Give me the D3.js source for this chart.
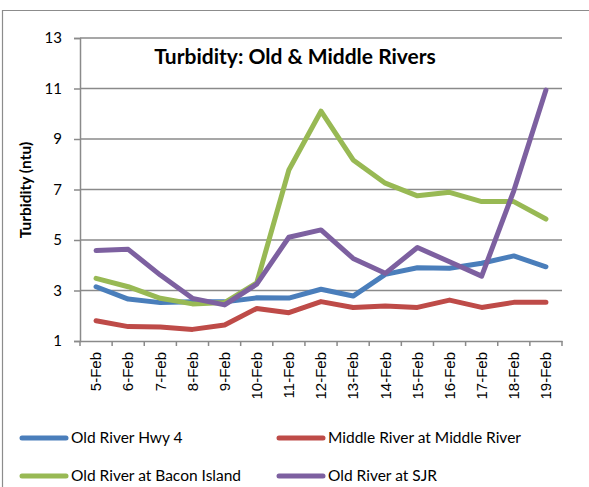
<!DOCTYPE html>
<html>
<head>
<meta charset="utf-8">
<script src="https://cdn.jsdelivr.net/npm/d3@7"></script>
<style>
  body { margin: 0; background: #fff; }
  svg { display: block; }
</style>
</head>
<body>
<div id="chart"></div>
<script>
// dates on the x axis
var days = ["5-Feb","6-Feb","7-Feb","8-Feb","9-Feb","10-Feb","11-Feb","12-Feb",
            "13-Feb","14-Feb","15-Feb","16-Feb","17-Feb","18-Feb","19-Feb"];

// turbidity readings (ntu)
var oldRiverHwy4   = [3.15, 2.66, 2.52, 2.55, 2.55, 2.71, 2.70, 3.05, 2.78, 3.64, 3.90, 3.88, 4.08, 4.37, 3.94];
var middleRiver    = [1.80, 1.57, 1.55, 1.46, 1.63, 2.29, 2.12, 2.56, 2.33, 2.39, 2.33, 2.62, 2.33, 2.53, 2.53];
var baconIsland    = [3.48, 3.15, 2.69, 2.47, 2.52, 3.30, 7.77, 10.10, 8.17, 7.25, 6.75, 6.89, 6.52, 6.52, 5.83];
var oldRiverSJR    = [4.58, 4.63, 3.61, 2.69, 2.43, 3.25, 5.11, 5.40, 4.27, 3.68, 4.70, 4.14, 3.57, 6.95, 10.94];

var seriesNames = ["Old River Hwy 4", "Middle River at Middle River", "Old River at Bacon Island", "Old River at SJR"];
var yTicks = [1, 3, 5, 7, 9, 11, 13];

var series = [
  {name: seriesNames[0], values: oldRiverHwy4, color: "#4A7EBB"},
  {name: seriesNames[1], values: middleRiver,  color: "#BE4B48"},
  {name: seriesNames[2], values: baconIsland,  color: "#98B954"},
  {name: seriesNames[3], values: oldRiverSJR,  color: "#7D60A0"}
];

var W = 589, H = 487;
var margin = {top: 38, right: 27, bottom: 146, left: 80},
    width = W - margin.left - margin.right,
    height = H - margin.top - margin.bottom;

var svg = d3.select("#chart").append("svg")
  .attr("width", W)
  .attr("height", H);

// outer chart border (only top and left show in the frame)
svg.append("path")
  .attr("d", "M2.5," + H + "V10.5H" + W)
  .attr("fill", "none")
  .attr("stroke", "#8c8c8c")
  .attr("stroke-width", 1.2);

var g = svg.append("g")
  .attr("transform", "translate(" + margin.left + "," + margin.top + ")");

var x = d3.scaleBand().domain(days).range([0, width]);
var y = d3.scaleLinear().domain([1, 13]).range([height, 0]);

// gridlines
g.selectAll(".grid")
  .data(yTicks.filter(function(d) { return d > 1; }))
  .enter().append("line")
    .attr("x1", 0).attr("x2", width)
    .attr("y1", function(d) { return y(d); })
    .attr("y2", function(d) { return y(d); })
    .attr("stroke", "#8a8a8a")
    .attr("stroke-width", 1.5);

// y axis
var yAxis = g.append("g")
  .call(d3.axisLeft(y).tickValues(yTicks).tickSize(6).tickPadding(12));
yAxis.select(".domain").attr("stroke", "#8a8a8a").attr("stroke-width", 1.5);
yAxis.selectAll(".tick line").attr("stroke", "#8a8a8a").attr("stroke-width", 1.5);
yAxis.selectAll("text")
  .style("font-family", "Lato, 'Open Sans', sans-serif")
  .style("font-size", "15px")
  .attr("fill", "#000");

// x axis, ticks sit between categories like Excel
var xAxis = g.append("g")
  .attr("transform", "translate(0," + height + ")")
  .call(d3.axisBottom(x).tickSize(0).tickPadding(0));
xAxis.select(".domain").attr("stroke", "#8a8a8a").attr("stroke-width", 1.5);
xAxis.selectAll(".tick text")
  .attr("transform", "rotate(-90)")
  .attr("x", -11)
  .attr("y", 0)
  .attr("dy", "0.35em")
  .style("text-anchor", "end")
  .style("font-family", "'Liberation Sans', Arial, sans-serif")
  .style("font-size", "15px")
  .attr("fill", "#000");

var bounds = d3.range(days.length + 1).map(function(i) { return i * x.bandwidth(); });
g.selectAll(".xtick")
  .data(bounds)
  .enter().append("line")
    .attr("x1", function(d) { return d; }).attr("x2", function(d) { return d; })
    .attr("y1", height).attr("y2", height + 5)
    .attr("stroke", "#8a8a8a")
    .attr("stroke-width", 1.5);

// lines
var line = d3.line()
  .x(function(d, i) { return x(days[i]) + x.bandwidth() / 2; })
  .y(function(d) { return y(d); });

g.selectAll(".series")
  .data(series)
  .enter().append("path")
    .attr("d", function(d) { return line(d.values); })
    .attr("fill", "none")
    .attr("stroke", function(d) { return d.color; })
    .attr("stroke-width", 5)
    .attr("stroke-linejoin", "round")
    .attr("stroke-linecap", "round");

// title
svg.append("text")
  .attr("x", 295)
  .attr("y", 64)
  .attr("text-anchor", "middle")
  .style("font-family", "Lato, 'Open Sans', sans-serif")
  .style("font-weight", "bold")
  .style("font-size", "21px")
  .text("Turbidity: Old & Middle Rivers");

// y label
svg.append("text")
  .attr("transform", "translate(31,190) rotate(-90)")
  .attr("text-anchor", "middle")
  .style("font-family", "Lato, 'Open Sans', sans-serif")
  .style("font-weight", "bold")
  .style("font-size", "15.5px")
  .text("Turbidity (ntu)");

// legend
var legendPos = [[20, 438], [277, 438], [20, 476], [277, 476]];
var legend = svg.selectAll(".legend")
  .data(series)
  .enter().append("g")
    .attr("transform", function(d, i) { return "translate(" + legendPos[i][0] + "," + legendPos[i][1] + ")"; });
legend.append("line")
  .attr("x1", 2).attr("x2", 46)
  .attr("stroke", function(d) { return d.color; })
  .attr("stroke-width", 5)
  .attr("stroke-linecap", "round");
legend.append("text")
  .attr("x", 51)
  .attr("dy", "0.35em")
  .style("font-family", "Lato, 'Open Sans', sans-serif")
  .style("font-size", "15.5px")
  .text(function(d) { return d.name; });
</script>
</body>
</html>
